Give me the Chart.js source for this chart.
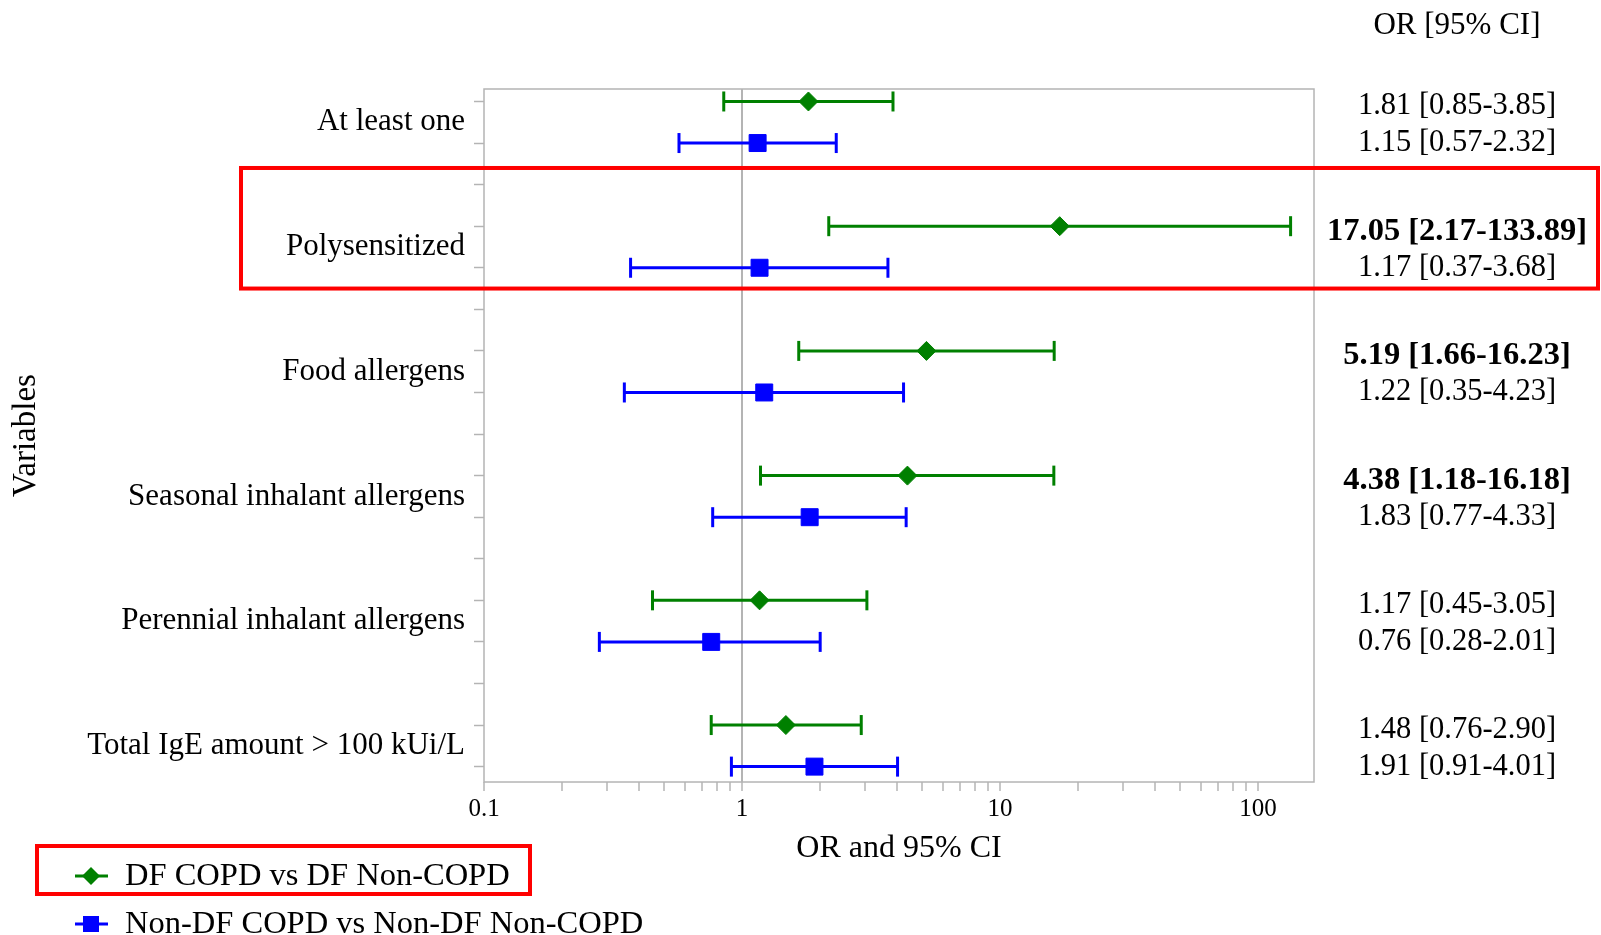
<!DOCTYPE html>
<html>
<head>
<meta charset="utf-8">
<title>OR and 95% CI</title>
<script src="https://cdn.jsdelivr.net/npm/chart.js@4.4.0/dist/chart.umd.min.js"></script>
<style>
  html, body { margin: 0; padding: 0; background: #fff; }
  #wrap { width: 1601px; height: 935px; }
</style>
</head>
<body>
<div id="wrap"><canvas id="myChart" width="1601" height="935"></canvas></div>
<script>
var categories = ['At least one', 'Polysensitized', 'Food allergens', 'Seasonal inhalant allergens', 'Perennial inhalant allergens', 'Total IgE amount > 100 kUi/L'];
var seriesNames = ['DF COPD vs DF Non-COPD', 'Non-DF COPD vs Non-DF Non-COPD'];
// DF COPD vs DF Non-COPD
var dfOR = [1.81, 17.05, 5.19, 4.38, 1.17, 1.48];
var dfLow = [0.85, 2.17, 1.66, 1.18, 0.45, 0.76];
var dfHigh = [3.85, 133.89, 16.23, 16.18, 3.05, 2.90];
// Non-DF COPD vs Non-DF Non-COPD
var nonDfOR = [1.15, 1.17, 1.22, 1.83, 0.76, 1.91];
var nonDfLow = [0.57, 0.37, 0.35, 0.77, 0.28, 0.91];
var nonDfHigh = [2.32, 3.68, 4.23, 4.33, 2.01, 4.01];
var xTickLabels = [0.1, 1, 10, 100];

var GREEN = '#008000', BLUE = '#0000ff', RED = '#ff0000', GREY = '#b4b4b4';
var SERIF = '"Liberation Serif", "Times New Roman", serif';
Chart.defaults.font.family = SERIF;
Chart.defaults.color = '#000';

// each variable uses 3 rows: DF, Non-DF, gap
function rowOf(i, s) { return 3 * i + s; }

function pointsOf(or, s) {
  return or.map(function(v, i) { return {x: v, y: rowOf(i, s)}; });
}

function ciOf(lo, hi, s) {
  var out = [];
  lo.forEach(function(v, i) {
    out.push({x: v, y: rowOf(i, s)});
    out.push({x: hi[i], y: rowOf(i, s)});
    out.push({x: null, y: null});
  });
  return out;
}

// log ticks 0.1..0.9, 1..9, 10..90, 100..
var logTicks = [];
xTickLabels.forEach(function(base) {
  for (var k = 1; k <= 9; k++) logTicks.push(+(base * k).toPrecision(2));
});

function ciLabel(or, lo, hi) {
  return or.toFixed(2) + ' [' + lo.toFixed(2) + '-' + hi.toFixed(2) + ']';
}

var frame = {
  id: 'frame',
  beforeDatasetsDraw: function(chart) {
    var a = chart.chartArea, ctx = chart.ctx;
    ctx.save();
    ctx.strokeStyle = GREY;
    ctx.lineWidth = 1.5;
    ctx.strokeRect(a.left, a.top, a.right - a.left, a.bottom - a.top);
    ctx.restore();
  }
};

function marker(ctx, style, x, y, color) {
  ctx.fillStyle = color;
  ctx.beginPath();
  if (style === 'rectRot') {
    ctx.moveTo(x, y - 9); ctx.lineTo(x + 9, y); ctx.lineTo(x, y + 9); ctx.lineTo(x - 9, y);
  } else {
    ctx.rect(x - 8, y - 8, 16, 16);
  }
  ctx.closePath();
  ctx.fill();
}

var extras = {
  id: 'extras',
  afterDraw: function(chart) {
    var ctx = chart.ctx, yS = chart.scales.y;
    var colX = 1457;
    ctx.save();
    ctx.fillStyle = '#000';
    ctx.textAlign = 'center';
    ctx.textBaseline = 'middle';
    ctx.font = '31px ' + SERIF;
    ctx.fillText('OR [95% CI]', colX, 26);

    var groups = [[dfOR, dfLow, dfHigh, 0, 5], [nonDfOR, nonDfLow, nonDfHigh, 1, 0]];
    groups.forEach(function(g) {
      g[0].forEach(function(v, i) {
        var sig = g[1][i] > 1;
        ctx.font = (sig ? 'bold 32.5px ' : '30.5px ') + SERIF;
        ctx.fillStyle = '#000';
        ctx.fillText(ciLabel(v, g[1][i], g[2][i]), colX, yS.getPixelForValue(rowOf(i, g[3])) + g[4]);
      });
    });

    // highlight boxes
    ctx.strokeStyle = RED;
    ctx.lineWidth = 4;
    var top = yS.getPixelForValue(1.6), bottom = yS.getPixelForValue(4.5);
    ctx.strokeRect(241, top, 1598 - 241, bottom - top);
    ctx.strokeRect(37, 846, 530 - 37, 894 - 846);

    // legend
    var items = [[GREEN, 'rectRot', 876], [BLUE, 'rect', 924]];
    items.forEach(function(it, k) {
      ctx.strokeStyle = it[0];
      ctx.lineWidth = 3;
      ctx.beginPath();
      ctx.moveTo(75, it[2]);
      ctx.lineTo(108, it[2]);
      ctx.stroke();
      marker(ctx, it[1], 91, it[2], it[0]);
      ctx.fillStyle = '#000';
      ctx.textAlign = 'left';
      ctx.font = '32.5px ' + SERIF;
      ctx.fillText(seriesNames[k], 125, it[2]);
    });
    ctx.restore();
  }
};

var ctx = document.getElementById('myChart').getContext('2d');
var chart = new Chart(ctx, {
  type: 'scatter',
  data: {
    datasets: [{
      label: seriesNames[0],
      data: pointsOf(dfOR, 0),
      pointStyle: 'rectRot',
      pointRadius: 9.5,
      backgroundColor: GREEN,
      borderColor: GREEN,
      borderWidth: 1,
      order: 0
    }, {
      label: seriesNames[1],
      data: pointsOf(nonDfOR, 1),
      pointStyle: 'rect',
      pointRadius: 12,
      backgroundColor: BLUE,
      borderColor: BLUE,
      borderWidth: 1,
      order: 0
    }, {
      label: seriesNames[0] + ' CI',
      data: ciOf(dfLow, dfHigh, 0),
      showLine: true,
      borderColor: GREEN,
      borderWidth: 3,
      pointStyle: 'line',
      rotation: 90,
      pointRadius: 10,
      pointBorderWidth: 3,
      pointBorderColor: GREEN,
      order: 1
    }, {
      label: seriesNames[1] + ' CI',
      data: ciOf(nonDfLow, nonDfHigh, 1),
      showLine: true,
      borderColor: BLUE,
      borderWidth: 3,
      pointStyle: 'line',
      rotation: 90,
      pointRadius: 10,
      pointBorderWidth: 3,
      pointBorderColor: BLUE,
      order: 1
    }]
  },
  options: {
    responsive: false,
    animation: false,
    layout: { padding: { left: 0, right: 287, top: 89, bottom: 67 } },
    plugins: {
      legend: { display: false },
      tooltip: { enabled: false }
    },
    scales: {
      x: {
        type: 'logarithmic',
        min: 0.1,
        max: 165,
        afterBuildTicks: function(scale) {
          scale.ticks = logTicks.filter(function(v) { return v <= scale.max; }).map(function(v) { return {value: v}; });
        },
        afterFit: function(scale) { scale.height = 86; },
        ticks: {
          autoSkip: false,
          maxRotation: 0,
          padding: 3,
          font: { size: 25 },
          color: '#000',
          callback: function(v) { return xTickLabels.indexOf(v) >= 0 ? String(v) : ''; }
        },
        grid: {
          color: function(c) { return c.tick && c.tick.value === 1 ? GREY : 'rgba(0,0,0,0)'; },
          lineWidth: 2,
          tickColor: GREY,
          tickLength: 9,
          tickWidth: 1.5
        },
        border: { display: false },
        title: { display: true, text: 'OR and 95% CI', font: { size: 32 }, color: '#000', padding: 0 }
      },
      y: {
        type: 'linear',
        reverse: true,
        min: -0.3,
        max: 16.37,
        afterBuildTicks: function(scale) {
          var t = [];
          for (var r = 0; r <= 16; r++) t.push({value: r});
          categories.forEach(function(c, i) { t.push({value: rowOf(i, 0.5)}); });
          t.sort(function(a, b) { return a.value - b.value; });
          scale.ticks = t;
        },
        afterFit: function(scale) { scale.width = 484; },
        ticks: {
          autoSkip: false,
          padding: 9,
          font: { size: 31 },
          color: '#000',
          callback: function(v) {
            var i = (v - 0.5) / 3;
            return Number.isInteger(i) ? categories[i] : '';
          }
        },
        grid: {
          drawOnChartArea: false,
          tickLength: 10,
          tickWidth: 1.5,
          tickColor: function(c) { return c.tick && Number.isInteger(c.tick.value) ? GREY : 'rgba(0,0,0,0)'; }
        },
        border: { display: false },
        title: { display: true, text: 'Variables', font: { size: 33 }, color: '#000', padding: { top: 7, bottom: 0 } }
      }
    }
  },
  plugins: [frame, extras]
});
</script>
</body>
</html>
